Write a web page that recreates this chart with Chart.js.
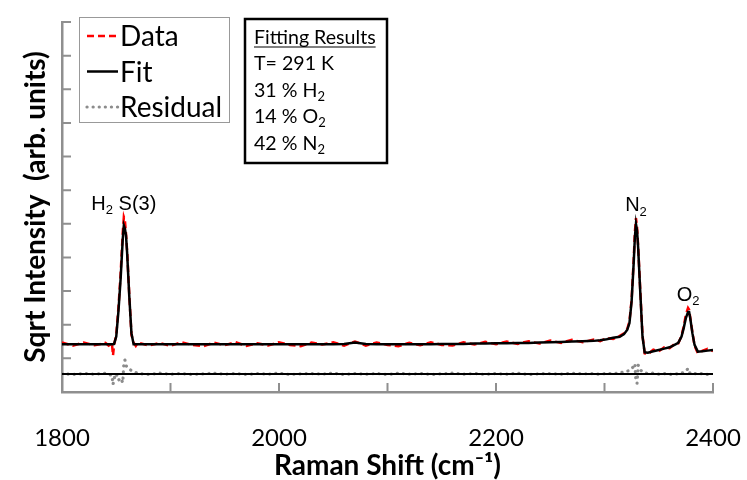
<!DOCTYPE html>
<html>
<head>
<meta charset="utf-8">
<script src="https://cdn.jsdelivr.net/npm/chart.js@4.4.1/dist/chart.umd.min.js"></script>
<style>
  html, body { margin: 0; padding: 0; background: #fff; }
</style>
</head>
<body>
<canvas id="chart" width="747" height="480"></canvas>
<script>
// Raman shift grid (cm-1) shared by all spectrum series
const shiftX = [1800,1810,1820,1830,1840,1843,1846,1847,1848,1850,1852,1854,1856,1857,1858,1859,1860,1862,1864,1866,1868,
  1870,1880,1890,1900,1910,1920,1930,1940,1950,1960,1970,1980,1990,2000,2010,2020,2030,2040,2050,2060,2070,2080,2090,
  2100,2110,2120,2130,2140,2150,2160,2170,2180,2190,2200,2210,2220,2230,2240,2250,2260,2270,2280,
  2290,2296,2302,2308,2314,2318,2321,2323,2325,2327,2328,2329,2330,2331,2333,2335,2337,2340,2345,2350,
  2355,2360,2365,2368,2371,2373,2375,2377,2378,2379,2381,2383,2386,2390,2395,2400];

const dataY = [1.47,1.38,1.47,1.39,1.46,1.38,1.45,1.08,1.40,1.70,2.50,3.50,4.75,5.20,5.10,4.70,4.20,2.90,1.70,1.47,1.37,
  1.47,1.38,1.46,1.37,1.48,1.40,1.36,1.47,1.39,1.48,1.37,1.45,1.38,1.48,1.40,1.36,1.47,1.41,1.48,1.38,1.50,1.38,1.47,
  1.40,1.36,1.46,1.39,1.48,1.40,1.38,1.48,1.41,1.49,1.42,1.50,1.43,1.51,1.44,1.53,1.46,1.55,1.48,
  1.56,1.51,1.60,1.58,1.67,1.74,1.88,2.10,2.75,4.00,4.75,5.17,4.90,4.35,3.00,1.70,1.15,1.12,1.26,1.21,
  1.33,1.30,1.44,1.45,1.67,1.95,2.30,2.50,2.45,2.22,1.78,1.38,1.15,1.22,1.28,1.22];

const fitY = [1.42,1.42,1.42,1.42,1.42,1.42,1.42,1.42,1.43,1.65,2.40,3.35,4.55,4.95,4.85,4.65,4.15,2.85,1.75,1.42,1.42,
  1.42,1.42,1.42,1.42,1.42,1.42,1.42,1.42,1.42,1.42,1.42,1.42,1.42,1.42,1.42,1.42,1.42,1.42,1.42,1.43,1.47,1.43,1.42,
  1.42,1.42,1.42,1.42,1.42,1.43,1.43,1.43,1.44,1.44,1.45,1.45,1.46,1.46,1.47,1.48,1.49,1.50,1.51,
  1.52,1.54,1.57,1.61,1.64,1.72,1.85,2.05,2.70,3.90,4.60,5.00,4.80,4.30,2.95,1.65,1.18,1.17,1.21,1.25,
  1.29,1.33,1.41,1.46,1.65,1.90,2.20,2.38,2.38,2.20,1.75,1.40,1.20,1.21,1.23,1.25];

const residualY = [0.55,0.52,0.55,0.53,0.56,0.52,0.50,0.22,0.40,0.55,0.35,0.42,0.28,0.85,0.95,0.80,0.72,0.68,0.64,0.60,0.58,
  0.55,0.52,0.56,0.53,0.55,0.52,0.54,0.56,0.53,0.55,0.52,0.55,0.53,0.56,0.52,0.54,0.55,0.53,0.56,0.52,0.55,0.53,0.55,
  0.52,0.56,0.53,0.55,0.52,0.54,0.56,0.53,0.55,0.52,0.55,0.53,0.56,0.52,0.54,0.55,0.53,0.56,0.54,
  0.55,0.52,0.56,0.54,0.57,0.60,0.62,0.64,0.68,0.78,0.84,0.30,0.26,0.80,0.66,0.60,0.57,0.55,0.56,0.53,
  0.55,0.52,0.55,0.53,0.56,0.58,0.62,0.70,0.60,0.55,0.52,0.55,0.53,0.55,0.52,0.55];

// zero line of the residual trace
const zeroX = [1800, 2400];
const zeroY = [0.535, 0.535];

// peak annotations
const peakNames = ['H_2 S(3)', 'N_2', 'O_2'];
const peakShift = [1857, 2329, 2377];

// fitting results box
const fitTitle = 'Fitting Results';
const fitLines = ['T= 291 K', '31 % H_2', '14 % O_2', '42 % N_2'];

const xMin = 1800, xMax = 2400, xStep = 100, xLabelStep = 200;
const yMin = 0, yMax = 11, yStep = 1;
const axisGray = '#8f8f8f';

function pts(xs, ys) {
  return xs.map((x, i) => ({ x: x, y: ys[i] }));
}

// draw text where "_2" means a subscript 2
function drawRich(ctx, str, x, y, size, family, align) {
  const parts = [];
  str.split(/(_\d)/).forEach(p => {
    if (!p) return;
    if (p[0] === '_') parts.push({ t: p.slice(1), sub: true });
    else parts.push({ t: p, sub: false });
  });
  let total = 0;
  parts.forEach(p => {
    ctx.font = (p.sub ? Math.round(size * 0.65) : size) + 'px ' + family;
    p.w = ctx.measureText(p.t).width;
    total += p.w;
  });
  let cx = align === 'center' ? x - total / 2 : x;
  ctx.textBaseline = 'alphabetic';
  ctx.textAlign = 'left';
  parts.forEach(p => {
    ctx.font = (p.sub ? Math.round(size * 0.65) : size) + 'px ' + family;
    ctx.fillText(p.t, cx, p.sub ? y + size * 0.22 : y);
    cx += p.w;
  });
}

const innerTicks = {
  id: 'innerTicks',
  beforeDatasetsDraw(chart) {
    const ctx = chart.ctx, a = chart.chartArea;
    const xs = chart.scales.x, ys = chart.scales.y;
    ctx.save();
    ctx.strokeStyle = axisGray;
    ctx.lineWidth = 2;
    ctx.beginPath();
    xs.ticks.forEach(t => {
      const px = xs.getPixelForValue(t.value);
      if (Math.abs(px - a.left) < 1) return;
      ctx.moveTo(px, a.bottom); ctx.lineTo(px, a.bottom - 9);
    });
    ys.ticks.forEach(t => {
      const py = ys.getPixelForValue(t.value);
      if (Math.abs(py - a.bottom) < 1) return;
      ctx.moveTo(a.left, py); ctx.lineTo(a.left + 9, py);
    });
    ctx.stroke();
    ctx.restore();
  }
};

const peakLabels = {
  id: 'peakLabels',
  afterDatasetsDraw(chart) {
    const ctx = chart.ctx, xs = chart.scales.x, ys = chart.scales.y;
    ctx.save();
    ctx.fillStyle = '#000';
    peakNames.forEach((name, i) => {
      let top = 0;
      shiftX.forEach((x, j) => { if (Math.abs(x - peakShift[i]) <= 6) top = Math.max(top, dataY[j]); });
      drawRich(ctx, name, xs.getPixelForValue(peakShift[i]), ys.getPixelForValue(top) - 7, 20, '"Liberation Sans", Arial', 'center');
    });
    ctx.restore();
  }
};

const boxes = {
  id: 'boxes',
  afterDraw(chart) {
    const ctx = chart.ctx;
    ctx.save();
    // legend
    ctx.fillStyle = '#fff';
    ctx.fillRect(79, 17, 151, 106);
    ctx.strokeStyle = '#999';
    ctx.lineWidth = 1;
    ctx.strokeRect(79.5, 17.5, 150, 105);
    const items = chart.data.datasets.filter(d => d.label);
    items.forEach((d, i) => {
      const cy = 36 + i * 35.5;
      ctx.strokeStyle = d.borderColor;
      ctx.lineWidth = d.borderWidth;
      ctx.setLineDash(d.borderDash || []);
      ctx.lineCap = d.borderCapStyle || 'butt';
      ctx.beginPath();
      ctx.moveTo(87, cy); ctx.lineTo(118, cy);
      ctx.stroke();
      ctx.setLineDash([]);
      ctx.fillStyle = '#000';
      ctx.font = '28px Lato';
      ctx.textBaseline = 'middle';
      ctx.textAlign = 'left';
      ctx.fillText(d.label, 120, cy + 1);
    });
    // fitting results
    ctx.lineCap = 'butt';
    ctx.fillStyle = '#fff';
    ctx.fillRect(245, 19, 142, 144);
    ctx.strokeStyle = '#000';
    ctx.lineWidth = 2.5;
    ctx.strokeRect(245, 19, 142, 144);
    ctx.fillStyle = '#000';
    drawRich(ctx, fitTitle, 254, 44, 19.6, 'Lato', 'left');
    ctx.font = '19.6px Lato';
    const tw = ctx.measureText(fitTitle).width;
    ctx.lineWidth = 1.2;
    ctx.beginPath();
    ctx.moveTo(254, 47); ctx.lineTo(254 + tw, 47);
    ctx.stroke();
    fitLines.forEach((s, i) => {
      drawRich(ctx, s, 254, 70 + i * 26.5, 19.6, 'Lato', 'left');
    });
    ctx.restore();
  }
};

new Chart(document.getElementById('chart'), {
  type: 'line',
  data: {
    datasets: [
      { label: 'Data', data: pts(shiftX, dataY), borderColor: '#ff0000', borderWidth: 2.5,
        borderDash: [7, 4], pointRadius: 0, tension: 0, order: 1 },
      { label: 'Fit', data: pts(shiftX, fitY), borderColor: '#000', borderWidth: 2.5,
        pointRadius: 0, tension: 0, order: 0 },
      { label: 'Residual', data: pts(shiftX, residualY), borderColor: '#8c8c8c', borderWidth: 3.2,
        borderDash: [0.1, 6], borderCapStyle: 'round', pointRadius: 0, tension: 0, order: 3 },
      { data: pts(zeroX, zeroY), borderColor: '#000', borderWidth: 2.2, pointRadius: 0, order: 2 }
    ]
  },
  options: {
    responsive: false,
    animation: false,
    devicePixelRatio: 1,
    layout: { autoPadding: false, padding: { left: 2, right: 34, top: 22, bottom: 0 } },
    plugins: { legend: { display: false }, tooltip: { enabled: false } },
    scales: {
      x: {
        type: 'linear', min: xMin, max: xMax,
        afterFit: s => { s.height = 88; s.paddingLeft = 0; s.paddingRight = 0; },
        grid: { display: false, drawTicks: false },
        border: { display: true, color: axisGray, width: 2.5 },
        ticks: { stepSize: xStep, padding: 32, autoSkip: false, maxRotation: 0, color: '#000',
          font: { family: 'Lato', size: 24 },
          callback: v => (v % xLabelStep === 0 ? String(v) : '') },
        title: { display: true, text: 'Raman Shift (cm\u207B\u00B9)', color: '#000',
          font: { family: 'Lato', size: 28, weight: 'bold', lineHeight: 1.0 }, padding: { top: 0, bottom: 0 } }
      },
      y: {
        type: 'linear', min: yMin, max: yMax,
        afterFit: s => { s.width = 60; s.paddingTop = 0; s.paddingBottom = 0; },
        grid: { display: false, drawTicks: false },
        border: { display: true, color: axisGray, width: 2.5 },
        ticks: { stepSize: yStep, display: false },
        title: { display: true, text: 'Sqrt Intensity  (arb. units)', color: '#000',
          font: { family: 'Lato', size: 28, weight: 'bold' }, padding: { top: 17, bottom: 0 } }
      }
    }
  },
  plugins: [innerTicks, peakLabels, boxes]
});
</script>
</body>
</html>
